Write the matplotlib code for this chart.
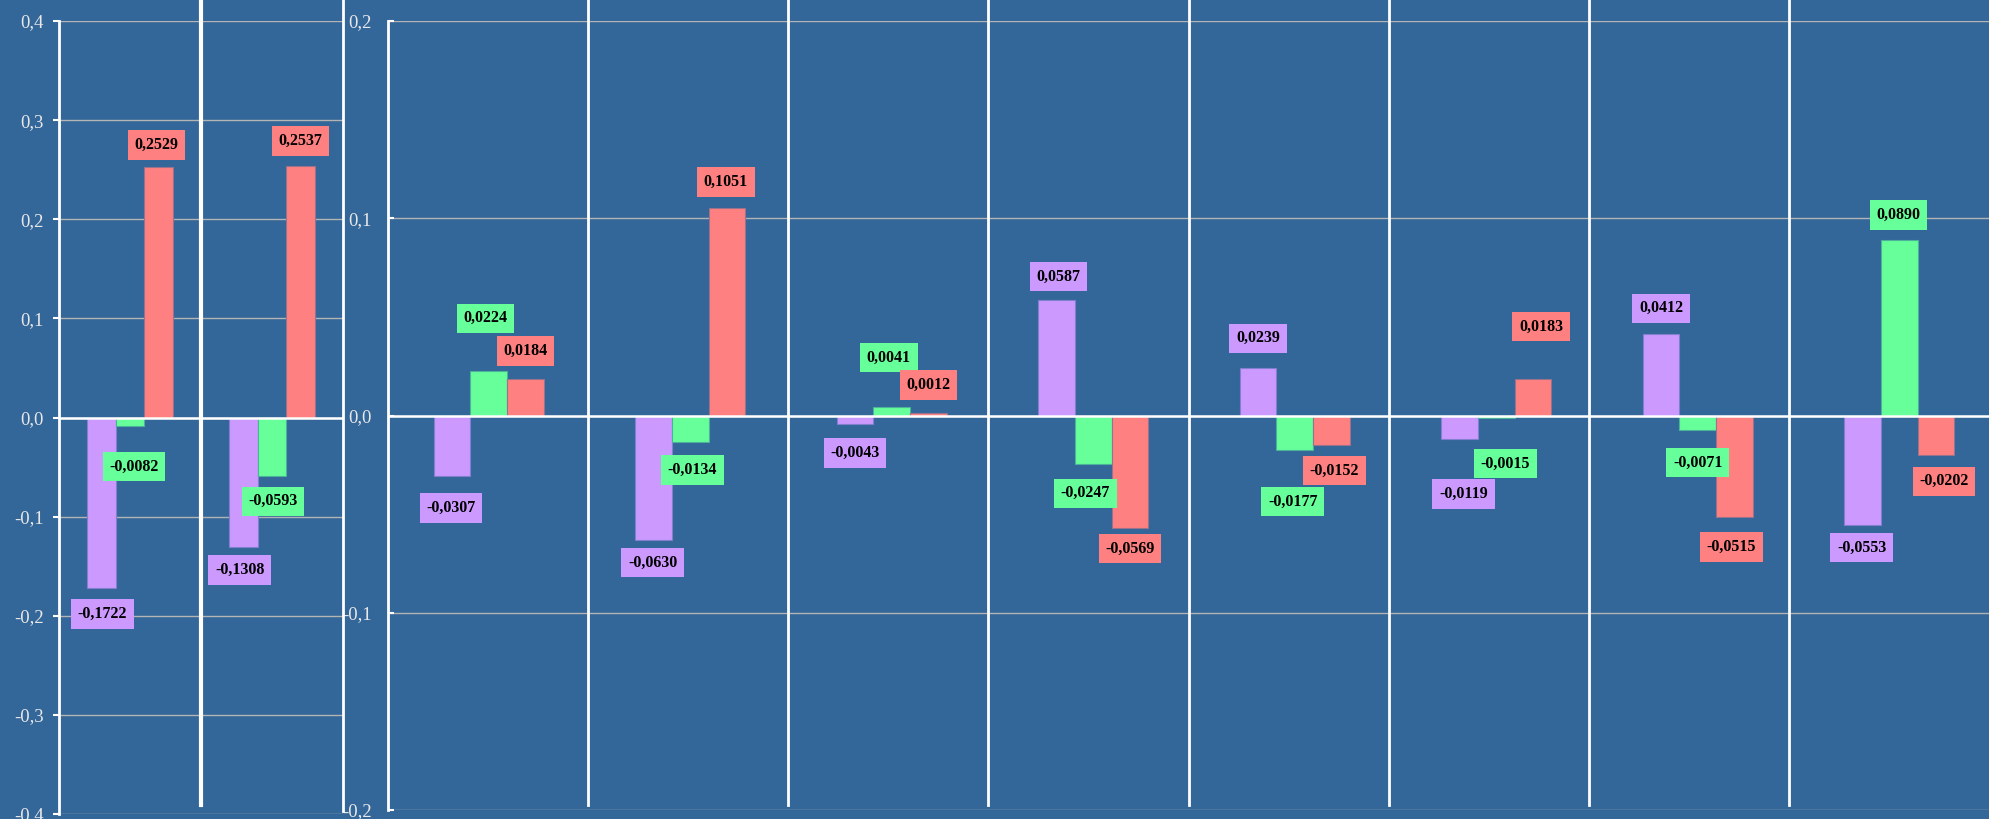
import matplotlib
matplotlib.use("Agg")
import matplotlib.pyplot as plt
import numpy as np
from matplotlib.lines import Line2D
from matplotlib.ticker import FixedLocator, FuncFormatter
from matplotlib.transforms import blended_transform_factory

# ---- data: left block (2 groups), right block (8 groups) ----
left_purple = [-0.1722, -0.1308]
left_green = [-0.0082, -0.0593]
left_red = [0.2529, 0.2537]

right_purple = [-0.0307, -0.0630, -0.0043, 0.0587, 0.0239, -0.0119, 0.0412, -0.0553]
right_green = [0.0224, -0.0134, 0.0041, -0.0247, -0.0177, -0.0015, -0.0071, 0.0890]
right_red = [0.0184, 0.1051, 0.0012, -0.0569, -0.0152, 0.0183, -0.0515, -0.0202]

left_ticks = [-0.4, -0.3, -0.2, -0.1, 0.0, 0.1, 0.2, 0.3, 0.4]
right_ticks = [-0.2, -0.1, 0.0, 0.1, 0.2]

# label nudges in pixels: (dx, distance away from bar end)
left_nudge = {
    "purple": [(1, 26), (-4, 23)],
    "green": [(4, 41), (1, 25)],
    "red": [(-2, 22), (0, 25)],
}
right_nudge = {
    "purple": [(-1, 32), (-1, 23), (0, 29), (2, 23), (0, 30), (4, 55), (0, 26), (-1, 23)],
    "green": [(-3, 53), (2, 28), (-3, 50), (-8, 29), (-2, 51), (9, 45), (0, 33), (-1, 25)],
    "red": [(0, 28), (-1, 26), (0, 28), (0, 21), (3, 25), (8, 53), (-3, 30), (8, 26)],
}

BG = "#336699"
COLORS = {"purple": "#CC99FF", "green": "#66FF99", "red": "#FF8080"}
EDGES = {"purple": "#8080CC", "green": "#4CB299", "red": "#99738C"}
SERIF = ["Liberation Serif", "DejaVu Serif"]

W, H, DPI = 1989, 819, 100
fig = plt.figure(figsize=(W / DPI, H / DPI), dpi=DPI, facecolor=BG)


def comma(v, digits):
    v = round(v, digits) + 0.0
    return f"{v:.{digits}f}".replace(".", ",")


def setup_axis(ax, ticks, tick_dir, pad):
    ax.set_facecolor("none")
    for s in ("top", "right", "bottom"):
        ax.spines[s].set_visible(False)
    ax.spines["left"].set_color("white")
    ax.spines["left"].set_linewidth(2)
    ax.set_ylim(ticks[0], ticks[-1])
    ax.yaxis.set_major_locator(FixedLocator(ticks))
    ax.yaxis.set_major_formatter(FuncFormatter(lambda v, p: comma(v, 1)))
    ax.tick_params(axis="y", direction=tick_dir, length=4, width=1.5,
                   color="white", labelcolor="#e8e8e8", labelsize=13.5, pad=pad)
    for lab in ax.get_yticklabels():
        lab.set_family(SERIF)
    ax.set_xticks([])
    ax.set_axisbelow(True)
    ax.yaxis.grid(True, color="#b4b4b4", lw=1.0, zorder=0)
    ax.axhline(0, color="white", lw=1.8, zorder=3)


def draw_bars(ax, series, nudges, width):
    n = len(series["purple"])
    x = np.arange(n)
    for k, name in enumerate(("purple", "green", "red")):
        vals = series[name]
        xs = x + (k - 1) * width
        ax.bar(xs, vals, width, color=COLORS[name], edgecolor=EDGES[name],
               lw=0.8, zorder=2)
        for xi, v, (dx, dy) in zip(xs, vals, nudges[name]):
            sign = 1 if v >= 0 else -1
            ax.annotate(comma(v, 4), xy=(xi, v), xytext=(dx, sign * dy),
                        textcoords="offset pixels", ha="center", va="center",
                        fontsize=11.5, fontweight="bold", family=SERIF, color="black",
                        bbox=dict(boxstyle="square,pad=0.42", fc=COLORS[name], ec="none"),
                        annotation_clip=False, zorder=5)


# ---- left block ----
ax_l = fig.add_axes([59 / W, 5 / H, 284 / W, 793 / H])
setup_axis(ax_l, left_ticks, "out", 7)
ax_l.set_xlim(-0.5, 1.5)
draw_bars(ax_l, {"purple": left_purple, "green": left_green, "red": left_red},
          left_nudge, 0.2)

# ---- right block ----
ax_r = fig.add_axes([388 / W, 9 / H, 1612 / W, 789 / H])
setup_axis(ax_r, right_ticks, "in", 11.5)
ax_r.set_xlim(-0.5, 7.5)
draw_bars(ax_r, {"purple": right_purple, "green": right_green, "red": right_red},
          right_nudge, 0.182)

# ---- white separators ----
tl = blended_transform_factory(ax_l.transAxes, fig.transFigure)
fig.add_artist(Line2D([0.5, 0.5], [14 / H, 1], transform=tl, color="white", lw=3))
fig.add_artist(Line2D([1.0, 1.0], [8 / H, 1], transform=tl, color="white", lw=2))
x0 = ax_r.get_position().x0
for k in range(1, 8):
    xf = x0 + k * (1 - x0) / 8
    fig.add_artist(Line2D([xf, xf], [14 / H, 1], transform=fig.transFigure,
                          color="white", lw=2))

fig.savefig("out.png", dpi=DPI, facecolor=BG)
